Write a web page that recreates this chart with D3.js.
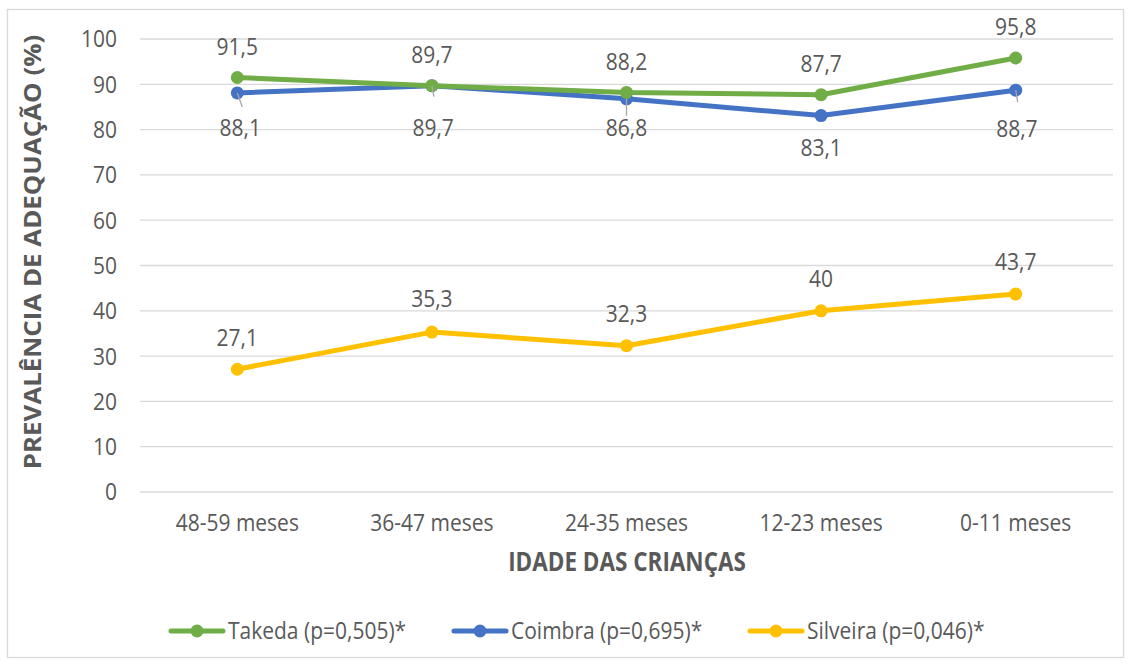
<!DOCTYPE html>
<html>
<head>
<meta charset="utf-8">
<script src="https://cdn.jsdelivr.net/npm/d3@7"></script>
<style>
	body { margin: 0; background: #fff; }
	text { font-family: "Open Sans", Lato, sans-serif; fill: #595959; }
	.grid line { stroke: #d9d9d9; stroke-width: 1.3; }
	.tick-label { font-size: 21px; }
	.axis-title { font-size: 22.5px; font-weight: bold; }
	.data-label { font-size: 21px; }
	.legend-label { font-size: 21px; }
	.leader { stroke: #a6a6a6; stroke-width: 1.3; }
</style>
</head>
<body>
<svg id="chart" width="1131" height="665"></svg>
<script>
const categories = ["48-59 meses", "36-47 meses", "24-35 meses", "12-23 meses", "0-11 meses"];
const yTicks = [0, 10, 20, 30, 40, 50, 60, 70, 80, 90, 100];

const takeda = [91.5, 89.7, 88.2, 87.7, 95.8];
const coimbra = [88.1, 89.7, 86.8, 83.1, 88.7];
const silveira = [27.1, 35.3, 32.3, 40, 43.7];

const seriesNames = ["Takeda (p=0,505)*", "Coimbra (p=0,695)*", "Silveira (p=0,046)*"];
const seriesColors = ["#70AD47", "#4472C4", "#FFC000"];

const width = 1131, height = 665;
const margin = { top: 39, right: 18, bottom: 173, left: 140 };
// the reference text looks a bit taller than wide
const stretch = 1.15;

const svg = d3.select("#chart");

// place a text at (px, py) with the vertical stretch
function place(sel, px, py) {
	sel.attr("transform", (d, i) => {
		const tx = typeof px === "function" ? px(d, i) : px;
		const ty = typeof py === "function" ? py(d, i) : py;
		return `translate(${tx},${ty}) scale(1,${stretch})`;
	});
}

// outer border
svg.append("rect")
	.attr("x", 7.5).attr("y", 9.5)
	.attr("width", 1116).attr("height", 648)
	.attr("fill", "none")
	.attr("stroke", "#d9d9d9")
	.attr("stroke-width", 1.3);

const x = d3.scaleBand()
	.domain(categories)
	.range([margin.left, width - margin.right]);

const y = d3.scaleLinear()
	.domain([0, 100])
	.range([height - margin.bottom, margin.top]);

// gridlines
const grid = svg.append("g").attr("class", "grid");
grid.selectAll("line")
	.data(yTicks)
	.join("line")
	.attr("x1", margin.left)
	.attr("x2", width - margin.right)
	.attr("y1", d => y(d))
	.attr("y2", d => y(d));

// y tick labels
svg.append("g").selectAll("text")
	.data(yTicks)
	.join("text")
	.attr("class", "tick-label")
	.attr("dy", "0.35em")
	.attr("text-anchor", "end")
	.call(place, 117, d => y(d))
	.text(d => d);

// x tick labels
svg.append("g").selectAll("text")
	.data(categories)
	.join("text")
	.attr("class", "tick-label")
	.attr("dy", "0.35em")
	.attr("text-anchor", "middle")
	.call(place, d => x(d) + x.bandwidth() / 2, 523)
	.text(d => d);

// axis titles
svg.append("text")
	.attr("class", "axis-title")
	.attr("dy", "0.35em")
	.attr("text-anchor", "middle")
	.call(place, 627, 562)
	.text("IDADE DAS CRIANÇAS");

svg.append("text")
	.attr("class", "axis-title")
	.attr("transform", `translate(33, 252) rotate(-90) scale(${stretch},1)`)
	.attr("dy", "0.35em")
	.attr("text-anchor", "middle")
	.text("PREVALÊNCIA DE ADEQUAÇÃO (%)");

const allSeries = [takeda, coimbra, silveira];
const cx = (i) => x(categories[i]) + x.bandwidth() / 2;

const lineGen = d3.line()
	.x((d, i) => cx(i))
	.y(d => y(d));

// draw bottom series first so Takeda stays on top like the reference
[2, 1, 0].forEach(s => {
	const values = allSeries[s];
	const g = svg.append("g");
	g.append("path")
		.datum(values)
		.attr("fill", "none")
		.attr("stroke", seriesColors[s])
		.attr("stroke-width", 5)
		.attr("stroke-linejoin", "round")
		.attr("stroke-linecap", "round")
		.attr("d", lineGen);
	g.selectAll("circle")
		.data(values)
		.join("circle")
		.attr("cx", (d, i) => cx(i))
		.attr("cy", d => y(d))
		.attr("r", 6.5)
		.attr("fill", seriesColors[s]);
});

// label offsets (px from point), Excel moved some Coimbra labels
const takedaOffset = [-31, -31, -31, -31, -31];
const coimbraOffset = [35, 42, 29, 32, 38];
const silveiraOffset = [-32, -34, -32, -32, -32];
const labelOffsets = [takedaOffset, coimbraOffset, silveiraOffset];

// Coimbra leader lines (point to label)
const leaderDx = [5, 2, 0, 0, 2];
const leaderLen = [14, 11, 17, 0, 12];
svg.append("g").selectAll("line")
	.data(coimbra)
	.join("line")
	.attr("class", "leader")
	.attr("x1", (d, i) => cx(i))
	.attr("y1", d => y(d))
	.attr("x2", (d, i) => cx(i) + leaderDx[i])
	.attr("y2", (d, i) => y(d) + leaderLen[i])
	.style("display", (d, i) => leaderLen[i] ? null : "none");

// data labels
const fmt = v => String(v).replace(".", ",");
allSeries.forEach((values, s) => {
	svg.append("g").selectAll("text")
		.data(values)
		.join("text")
		.attr("class", "data-label")
		.attr("dy", "0.35em")
		.attr("text-anchor", "middle")
		.call(place,
			(d, i) => cx(i) + (s === 1 ? leaderDx[i] * 0.6 : 0),
			(d, i) => y(d) + labelOffsets[s][i])
		.text(fmt);
});

// legend
const legendX = [169, 452, 748];
const legend = svg.append("g").attr("transform", "translate(0, 631)");
seriesNames.forEach((name, s) => {
	const lg = legend.append("g").attr("transform", `translate(${legendX[s]}, 0)`);
	lg.append("line")
		.attr("x1", 2).attr("x2", 54)
		.attr("stroke", seriesColors[s])
		.attr("stroke-width", 5)
		.attr("stroke-linecap", "round");
	lg.append("circle")
		.attr("cx", 28).attr("r", 6.5)
		.attr("fill", seriesColors[s]);
	lg.append("text")
		.attr("class", "legend-label")
		.attr("dy", "0.35em")
		.call(place, 59, 0)
		.text(name);
});
</script>
</body>
</html>
